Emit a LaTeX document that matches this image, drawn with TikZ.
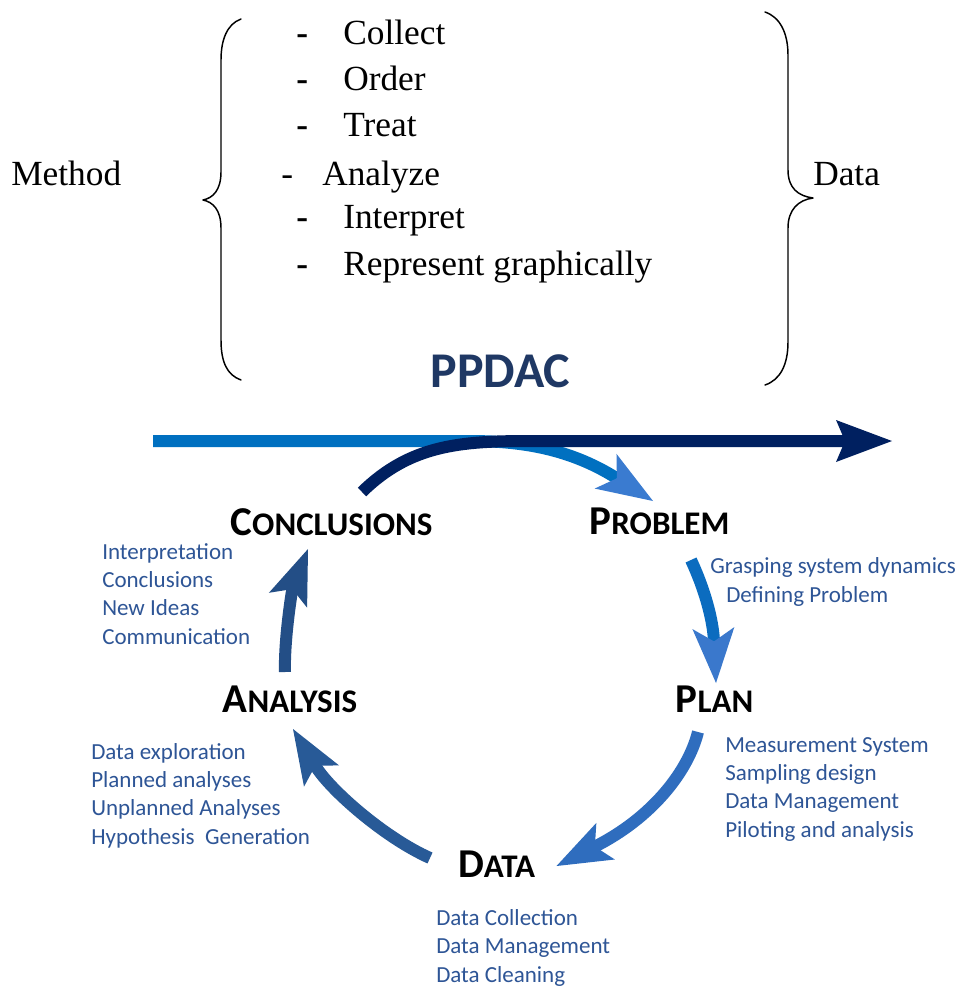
\documentclass[tikz,border=0pt]{standalone}
\usepackage{fontspec}
\setmainfont{Liberation Serif}
\newfontfamily\calfont{Carlito}
\usetikzlibrary{arrows.meta}

\definecolor{ink}{HTML}{2E5596}
\definecolor{ppdacnavy}{HTML}{1F3864}
\definecolor{pastblue}{HTML}{0070C0}
\definecolor{futurenavy}{HTML}{002060}
\definecolor{probhead}{HTML}{3A7BD0}
\definecolor{planshaft}{HTML}{0B6CBF}
\definecolor{planhead}{HTML}{3A78CC}
\definecolor{dataarrow}{HTML}{2F6DBE}
\definecolor{analarrow}{HTML}{285A97}
\definecolor{concarrow}{HTML}{234E86}

% large initial + smaller capitals, for the stage titles
\newcommand\capsword[2]{{\fontsize{30.75pt}{36pt}\selectfont #1}{\fontsize{24.75pt}{30pt}\selectfont #2}}

\tikzset{
  serifitem/.style={anchor=base west, inner sep=0pt, font=\fontsize{26.5pt}{32pt}\selectfont},
  bolddash/.style={anchor=base west, inner sep=0pt, font=\fontsize{26.5pt}{32pt}\selectfont\bfseries},
  brace/.style={line width=1.1pt, line cap=round, line join=round},
  stage/.style={anchor=base, inner sep=0pt, text=black, font=\calfont\bfseries},
  % multi-line notes are placed by the baseline of their last line
  notes/.style={anchor=base west, inner sep=0pt, align=left, text=ink,
                font=\calfont\fontsize{17.25pt}{21.2pt}\selectfont},
  shaft/.style={line width=9pt},
  cyclehead/.style={-{Stealth[length=41.25pt, width=30.75pt, inset=9pt, line width=0pt]}},
}

\begin{document}
\begin{tikzpicture}[x=0.75pt, y=-0.75pt]
  \useasboundingbox (0,0) rectangle (965,986);
  \fill[white] (0,0) rectangle (965,986);

  % ---------- method / data block ----------
  \node[serifitem] (method) at (11,185) {Method};
  \node[serifitem] (datalbl) at (813,185) {Data};

  \node[bolddash] (d1) at (296,44) {-};
  \node[serifitem] (collect) at (343,44) {Collect};
  \node[bolddash] (d2) at (296,90.7) {-};
  \node[serifitem] (order) at (343,90.7) {Order};
  \node[bolddash] (d3) at (296,136.7) {-};
  \node[serifitem] (treat) at (343,136.7) {Treat};
  \node[serifitem] (d4) at (281,185) {-};
  \node[serifitem] (analyze) at (322,185) {Analyze};
  \node[bolddash] (d5) at (296,228) {-};
  \node[serifitem] (interpret) at (343,228) {Interpret};
  \node[bolddash] (d6) at (296,275) {-};
  \node[serifitem] (represent) at (343,275) {Represent graphically};

  % curly braces
  \draw[brace] (241,19) .. controls (227,24) and (221,40) .. (221,60) -- (221,172)
     .. controls (221,190) and (213,198) .. (203,200)
     .. controls (213,202) and (221,210) .. (221,228) -- (221,340)
     .. controls (221,362) and (227,375) .. (241,380);
  \draw[brace] (765,12) .. controls (780,17) and (788,33) .. (788,55) -- (788,170)
     .. controls (788,188) and (798,196) .. (813,198)
     .. controls (798,200) and (788,210) .. (788,228) -- (788,342)
     .. controls (788,365) and (780,380) .. (765,385);

  % ---------- PPDAC cycle ----------
  \node[anchor=base, inner sep=0pt, text=ppdacnavy,
        font=\calfont\bfseries\fontsize{37.5pt}{40pt}\selectfont] (ppdac) at (500.5,387) {PPDAC};

  \node[stage] (conc)   at (331.5,535) {\capsword{C}{ONCLUSIONS}};
  \node[stage] (prob)   at (659.5,534) {\capsword{P}{ROBLEM}};
  \node[stage] (plan)   at (714.5,712) {\capsword{P}{LAN}};
  \node[stage] (anal)   at (290,712)   {\capsword{A}{NALYSIS}};
  \node[stage] (stdata) at (496.5,877) {\capsword{D}{ATA}};

  \node[notes] (concnotes) at (102,644) {Interpretation\\Conclusions\\New Ideas\\Communication};
  \node[notes] (probnotes) at (710,602) {Grasping system dynamics\\\hspace*{12pt}Defining Problem};
  \node[notes] (plannotes) at (725,837) {Measurement System\\Sampling design\\Data Management\\Piloting and analysis};
  \node[notes] (analnotes) at (91,844) {Data exploration\\Planned analyses\\Unplanned Analyses\\Hypothesis~ Generation};
  \node[notes] (datanotes) at (436,982) {Data Collection\\Data Management\\Data Cleaning};

  % time line: past part entering the cycle, future part leaving it
  \coordinate (past)   at (153,441);
  \coordinate (split)  at (470,441);
  \coordinate (join)   at (530,441);
  \coordinate (future) at (892,441);

  \draw[shaft, pastblue,
        -{Stealth[length=42pt, width=30.75pt, inset=10pt, line width=0pt, color=probhead]}]
    (past) -- (split) .. controls +(60,0) and +(-78,-49) .. ([shift={(-6.5,-33)}]prob.base);

  \draw[shaft, futurenavy,
        -{Stealth[length=42pt, width=31.5pt, inset=6.75pt, line width=0pt]}]
    ([shift={(30.5,-43)}]conc.base) .. controls +(48,-47) and +(-70,0) .. (join) -- (future);

  % cycle arrows
  \draw[shaft, planshaft,
        -{Stealth[length=41.25pt, width=31.5pt, inset=10pt, line width=0pt, color=planhead]}]
    ([shift={(31.5,26)}]prob.base) .. controls +(14,30) and +(-3,-63) .. ([shift={(1.5,-29)}]plan.base);

  \draw[shaft, cyclehead, dataarrow]
    ([shift={(-16.5,20)}]plan.base) .. controls +(-10,40) and +(95,-48) .. ([shift={(60,-11)}]stdata.base);

  \draw[shaft, cyclehead, analarrow]
    ([shift={(-66.5,-19)}]stdata.base) .. controls +(-45,-20) and +(37,61) .. ([shift={(3,17)}]anal.base);

  \draw[shaft, cyclehead, concarrow]
    ([shift={(-5,-40)}]anal.base) .. controls +(-1,-32) and +(-16,41) .. ([shift={(-23.5,14)}]conc.base);
\end{tikzpicture}
\end{document}
